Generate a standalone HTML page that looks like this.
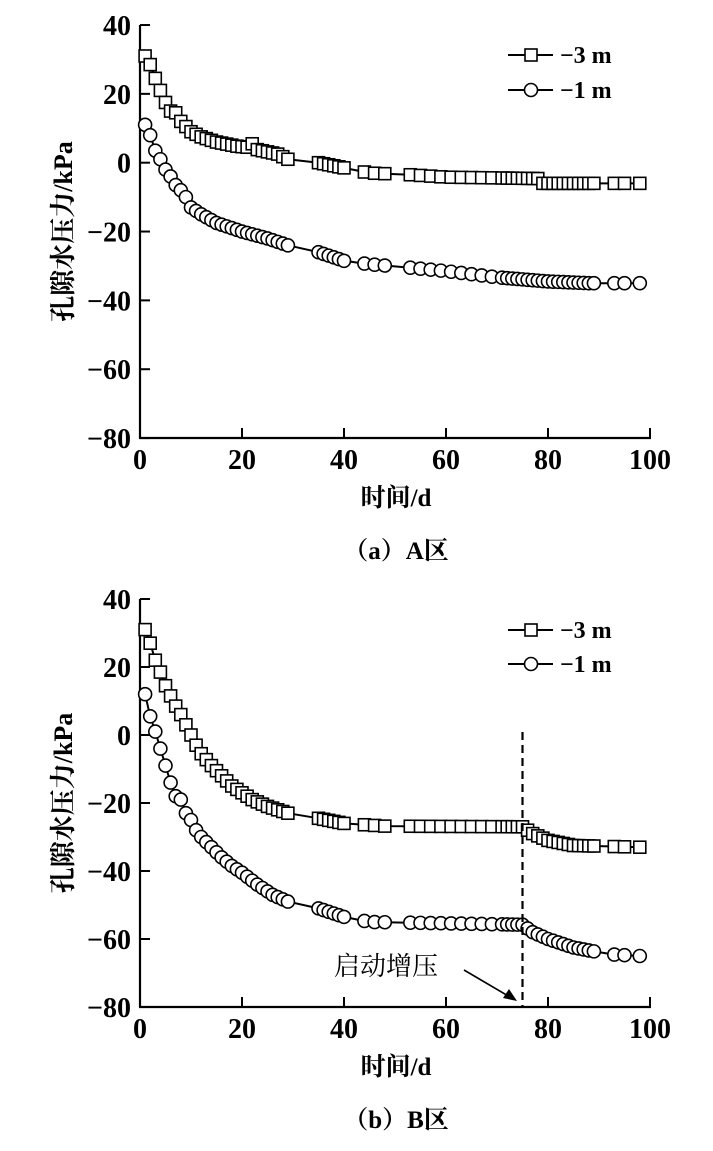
<!DOCTYPE html>
<html><head><meta charset="utf-8"><style>
html,body{margin:0;padding:0;background:#fff;}
svg text{font-family:"Liberation Serif","Noto Serif CJK SC",serif;font-weight:bold;fill:#000;}
</style></head><body>
<svg id="s" width="713" height="1146" xmlns="http://www.w3.org/2000/svg"></svg>
<script>
const S=document.getElementById('s');let h='';
function interp(kp,d){for(let i=0;i<kp.length-1;i++){if(d<=kp[i+1][0]){const t=(d-kp[i][0])/(kp[i+1][0]-kp[i][0]);return kp[i][1]+t*(kp[i+1][1]-kp[i][1]);}}return kp[kp.length-1][1];}
const days=[];for(let d=1;d<=29;d++)days.push(d);
[35,36,37,38,39,40,44,46,48,53,55,57,59,61,63,65,67,69,71,72,73,74,75,76,77,78,79,80,81,82,83,84,85,86,87,88,89,93,95,98].forEach(d=>days.push(d));
function chart(y0,ppu,A,B,xAxisY,captions,extra){
 const X=d=>140+5.1*d, Y=v=>y0-v*ppu;
 h+=`<line x1="140" y1="${Y(40)}" x2="140" y2="${xAxisY}" stroke="#000" stroke-width="2.2"/>`;
 h+=`<line x1="139" y1="${xAxisY}" x2="651" y2="${xAxisY}" stroke="#000" stroke-width="2.2"/>`;
 for(let v=40;v>=-80;v-=20){const y=Y(v);h+=`<line x1="140" y1="${y}" x2="150" y2="${y}" stroke="#000" stroke-width="2"/>`;
  h+=`<text x="131" y="${y+10}" font-size="28" text-anchor="end">${v<0?'−'+(-v):v}</text>`;}
 for(let d=0;d<=100;d+=20){const x=X(d);h+=`<line x1="${x}" y1="${xAxisY}" x2="${x}" y2="${xAxisY-10}" stroke="#000" stroke-width="2"/>`;
  h+=`<text x="${x}" y="${xAxisY+31}" font-size="28" text-anchor="middle">${d}</text>`;}
 h+=`<text transform="translate(72,${(Y(40)+xAxisY)/2}) rotate(-90)" font-size="26" text-anchor="middle">孔隙水压力/kPa</text>`;
 h+=`<text x="396" y="${xAxisY+68}" font-size="25" text-anchor="middle">时间/d</text>`;
 h+=`<text x="396" y="${xAxisY+121}" font-size="25" text-anchor="middle">（${captions[0]}）${captions[1]}区</text>`;
 [[A,'sq'],[B,'ci']].forEach(([kp,m])=>{
  const pts=days.filter(d=>d<=98).map(d=>[X(d),Y(interp(kp,d))]);
  h+=`<polyline points="${pts.map(p=>p[0].toFixed(1)+','+p[1].toFixed(1)).join(' ')}" fill="none" stroke="#000" stroke-width="2"/>`;
  pts.forEach(p=>{h+= m=='sq'?`<rect x="${p[0]-6}" y="${p[1]-6}" width="12" height="12" fill="#fff" stroke="#000" stroke-width="1.6"/>`:`<circle cx="${p[0]}" cy="${p[1]}" r="6.5" fill="#fff" stroke="#000" stroke-width="1.6"/>`;});
 });
 if(extra)extra(X,Y);
}
function legend(y1,y2){
 h+=`<line x1="508" y1="${y1}" x2="553" y2="${y1}" stroke="#000" stroke-width="2"/><rect x="525" y="${y1-6}" width="12" height="12" fill="#fff" stroke="#000" stroke-width="1.6"/><text x="560" y="${y1+8}" font-size="24">−3 m</text>`;
 h+=`<line x1="508" y1="${y2}" x2="553" y2="${y2}" stroke="#000" stroke-width="2"/><circle cx="531" cy="${y2}" r="6.5" fill="#fff" stroke="#000" stroke-width="1.6"/><text x="560" y="${y2+8}" font-size="24">−1 m</text>`;
}
chart(162.7,3.442,
 [[1,31],[2,28.5],[3,24.5],[4,21],[5,17.5],[6,15],[7,14.5],[8,12],[9,10.5],[10,9],[12,7.5],[15,6],[19,4.8],[21,4.5],[22,5.5],[23,3.8],[27,2.5],[29,1],[35,0],[40,-1.5],[45,-3],[53,-3.5],[60,-4.2],[78,-4.6],[79,-6],[98,-6]],
 [[1,11],[2,8],[3,3.5],[4,1],[5,-2],[6,-4],[7,-6.5],[8,-8],[9,-10],[10,-13],[12,-15],[15,-17.5],[20,-20],[25,-22],[29,-24],[35,-26],[40,-28.5],[45,-29.5],[53,-30.5],[60,-31.5],[70,-33.3],[80,-34.5],[88,-35],[98,-35]],
 438,['a','A']);
legend(55,90);
chart(735,3.4,
 [[1,31],[2,27],[3,22],[4,18.5],[5,14.5],[6,11.5],[7,8.5],[8,6],[9,3],[10,0],[11,-3],[12,-5.5],[14,-9],[16,-12],[18,-15],[20,-17],[22,-19],[25,-21],[29,-23],[35,-24.5],[40,-26],[48,-26.8],[75,-27],[77,-29],[80,-31],[85,-32.5],[98,-33]],
 [[1,12],[2,5.5],[3,1],[4,-4],[5,-9],[6,-14],[7,-18],[8,-19],[9,-23],[10,-25],[11,-28],[12,-30],[14,-33],[16,-36],[18,-38.5],[20,-40.5],[23,-44],[26,-47],[29,-49],[35,-51],[40,-53.5],[45,-55],[53,-55.2],[75,-55.8],[77,-58],[80,-60],[85,-62.5],[92,-64.5],[98,-65]],
 1007,['b','B'],(X,Y)=>{
  const x=X(75);h+=`<line x1="${x}" y1="732" x2="${x}" y2="1007" stroke="#000" stroke-width="2.2" stroke-dasharray="8,5"/>`;
  h+=`<text x="334" y="975" font-size="26" style="font-weight:normal">启动增压</text>`;
  h+=`<line x1="464" y1="970" x2="510" y2="997" stroke="#000" stroke-width="1.6"/><polygon points="517,1001 503,998 509,989" fill="#000"/>`;
 });
legend(630,664);
S.innerHTML=h;
</script>
</body></html>
